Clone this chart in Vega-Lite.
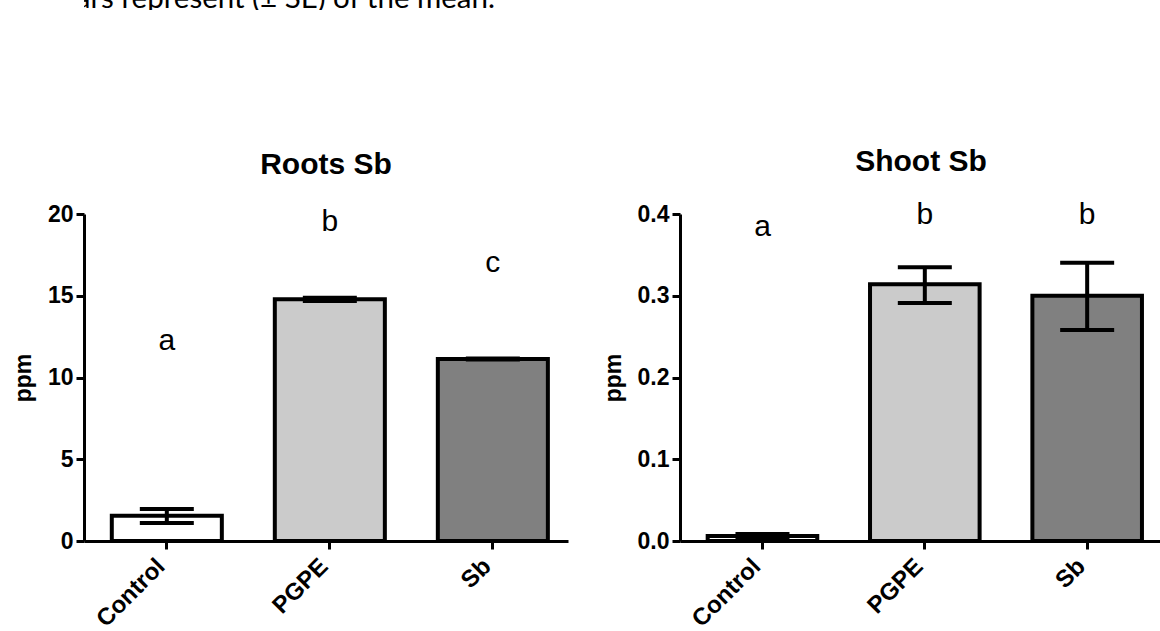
{
  "$schema": "https://vega.github.io/schema/vega-lite/v6.json",
  "padding": {"left": 0, "top": 0, "right": 0, "bottom": 0},
  "background": "white",
  "columns": 1,
  "align": "none",
  "spacing": 136,
  "config": {
    "view": {"stroke": null},
    "font": "Liberation Sans",
    "axis": {
      "domainColor": "black", "domainWidth": 3, "tickColor": "black", "tickWidth": 3, "tickSize": 8,
      "labelColor": "black", "labelFont": "Liberation Sans", "labelFontWeight": "bold",
      "titleColor": "black", "titleFont": "Liberation Sans", "titleFontWeight": "bold", "grid": false
    },
    "title": {"font": "Liberation Sans", "fontSize": 30, "fontWeight": "bold", "color": "black", "anchor": "middle", "frame": "group", "offset": 23}
  },
  "datasets": {
    "roots": [
      {"group": "Control", "mean": 1.55, "lo": 1.1, "hi": 1.95, "letter": "a", "ly": 12.25},
      {"group": "PGPE", "mean": 14.78, "lo": 14.68, "hi": 14.88, "letter": "b", "ly": 19.5},
      {"group": "Sb", "mean": 11.13, "lo": 11.1, "hi": 11.16, "letter": "c", "ly": 17.0}
    ],
    "shoot": [
      {"group": "Control", "mean": 0.006, "lo": 0.004, "hi": 0.0085, "letter": "a", "ly": 0.384},
      {"group": "PGPE", "mean": 0.314, "lo": 0.291, "hi": 0.335, "letter": "b", "ly": 0.399},
      {"group": "Sb", "mean": 0.3, "lo": 0.258, "hi": 0.3405, "letter": "b", "ly": 0.399}
    ],
    "note": [
      {"text": "rror bars represent (± SE) of the mean.", "px": 0, "py": 0}
    ]
  },
  "concat": [
    {
      "width": 1080,
      "height": 10,
      "data": {"name": "note"},
      "mark": {"type": "text", "clip": true, "align": "left", "baseline": "alphabetic", "font": "Lato", "fontSize": 29.5, "dx": -80, "dy": -2, "color": "black"},
      "encoding": {
        "x": {"field": "px", "type": "quantitative", "scale": {"domain": [0, 1]}, "axis": null},
        "y": {"field": "py", "type": "quantitative", "scale": {"domain": [0, 1]}, "axis": null},
        "text": {"field": "text"}
      }
    },
    {
      "spacing": 34,
      "hconcat": [
        {
          "width": 484,
          "height": 327,
          "title": {"text": "Roots Sb"},
          "data": {"name": "roots"},
          "encoding": {
            "x": {
              "field": "group", "type": "nominal", "sort": ["Control", "PGPE", "Sb"],
              "scale": {"paddingInner": 0.325, "paddingOuter": 0.147, "align": 0.58},
              "axis": {"title": null, "labelAngle": -45, "labelFontSize": 24, "labelPadding": 5, "labelOffset": -14}
            }
          },
          "layer": [
            {
              "mark": {"type": "bar", "stroke": "black", "strokeWidth": 4},
              "encoding": {
                "y": {"field": "mean", "type": "quantitative", "scale": {"domain": [0, 20], "nice": false},
                  "axis": {"title": ["", "ppm"], "titleLineHeight": 12, "values": [0, 5, 10, 15, 20], "labelFontSize": 23, "titleFontSize": 23, "titlePadding": 12, "labelPadding": 3}},
                "fill": {"field": "group", "type": "nominal", "scale": {"domain": ["Control", "PGPE", "Sb"], "range": ["#ffffff", "#cbcbcb", "#808080"]}, "legend": null}
              }
            },
            {
              "mark": {"type": "rule", "strokeWidth": 4, "color": "black"},
              "encoding": {"y": {"field": "lo", "type": "quantitative"}, "y2": {"field": "hi"}}
            },
            {
              "mark": {"type": "tick", "size": 54, "thickness": 4, "color": "black", "opacity": 1},
              "encoding": {"y": {"field": "lo", "type": "quantitative"}}
            },
            {
              "mark": {"type": "tick", "size": 54, "thickness": 4, "color": "black", "opacity": 1},
              "encoding": {"y": {"field": "hi", "type": "quantitative"}}
            },
            {
              "mark": {"type": "text", "fontSize": 30, "font": "Liberation Sans", "baseline": "middle", "color": "black"},
              "encoding": {"y": {"field": "ly", "type": "quantitative"}, "text": {"field": "letter"}}
            }
          ]
        },
        {
          "width": 482,
          "height": 327,
          "title": {"text": "Shoot Sb"},
          "data": {"name": "shoot"},
          "encoding": {
            "x": {
              "field": "group", "type": "nominal", "sort": ["Control", "PGPE", "Sb"],
              "scale": {"paddingInner": 0.325, "paddingOuter": 0.147, "align": 0.58},
              "axis": {"title": null, "labelAngle": -45, "labelFontSize": 24, "labelPadding": 5, "labelOffset": -14}
            }
          },
          "layer": [
            {
              "mark": {"type": "bar", "stroke": "black", "strokeWidth": 4},
              "encoding": {
                "y": {"field": "mean", "type": "quantitative", "scale": {"domain": [0, 0.4], "nice": false},
                  "axis": {"title": "ppm", "values": [0, 0.1, 0.2, 0.3, 0.4], "format": ".1f", "labelFontSize": 23, "titleFontSize": 23, "titlePadding": 12, "labelPadding": 3}},
                "fill": {"field": "group", "type": "nominal", "scale": {"domain": ["Control", "PGPE", "Sb"], "range": ["#ffffff", "#cbcbcb", "#808080"]}, "legend": null}
              }
            },
            {
              "mark": {"type": "rule", "strokeWidth": 4, "color": "black"},
              "encoding": {"y": {"field": "lo", "type": "quantitative"}, "y2": {"field": "hi"}}
            },
            {
              "mark": {"type": "tick", "size": 54, "thickness": 4, "color": "black", "opacity": 1},
              "encoding": {"y": {"field": "lo", "type": "quantitative"}}
            },
            {
              "mark": {"type": "tick", "size": 54, "thickness": 4, "color": "black", "opacity": 1},
              "encoding": {"y": {"field": "hi", "type": "quantitative"}}
            },
            {
              "mark": {"type": "text", "fontSize": 30, "font": "Liberation Sans", "baseline": "middle", "color": "black"},
              "encoding": {"y": {"field": "ly", "type": "quantitative"}, "text": {"field": "letter"}}
            }
          ]
        }
      ]
    }
  ]
}
